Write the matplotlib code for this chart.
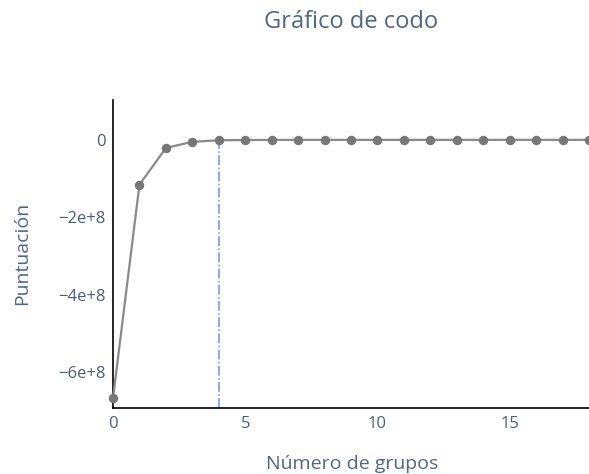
import numpy as np
import matplotlib
matplotlib.use("Agg")
import matplotlib.pyplot as plt
from matplotlib.ticker import FuncFormatter

# Données (score = -inertie)
grupos = list(range(19))
puntuacion = [-6.68e8, -1.16e8, -0.21e8, -0.05e8, -0.01e8,
              -0.004e8, -0.002e8, -0.001e8, -0.0008e8, -0.0006e8,
              -0.0005e8, -0.0004e8, -0.0003e8, -0.0003e8, -0.0002e8,
              -0.0002e8, -0.0002e8, -0.0001e8, -0.0001e8]
codo = 4

plt.rcParams["font.family"] = ["Open Sans", "DejaVu Sans"]
texto = "#4a5d7a"
titulo_col = "#506784"

fig = plt.figure(figsize=(5.89, 4.74), dpi=100)
ax = fig.add_axes([113 / 589, 66 / 474, 1 - 113 / 589, 308 / 474])

ax.plot(grupos, puntuacion, color="#8a8a8a", lw=1.6, marker="o",
        markersize=5.8, markerfacecolor="#777777", markeredgecolor="#777777",
        zorder=3, clip_on=False)

ymin, ymax = -6.93e8, 1.03e8
ax.vlines(codo, ymin, puntuacion[codo], colors="#6f8fe8", linestyles="dashdot",
          lw=1.1, zorder=2)

ax.set_xlim(0, 18)
ax.set_ylim(ymin, ymax)
ax.set_xticks([0, 5, 10, 15])
ax.set_yticks([0, -2e8, -4e8, -6e8])
ax.yaxis.set_major_formatter(FuncFormatter(
    lambda v, p: "0" if v == 0 else "\u2212%de+8" % abs(round(v / 1e8))))

for lado in ["top", "right"]:
    ax.spines[lado].set_visible(False)
for lado in ["left", "bottom"]:
    ax.spines[lado].set_color("black")
    ax.spines[lado].set_linewidth(1.2)
ax.tick_params(length=0, labelsize=12, labelcolor=texto)
ax.tick_params(axis="x", pad=6)
ax.tick_params(axis="y", pad=5)

fig.text(351 / 589, 1 - 22 / 474, "Gráfico de codo", ha="center", va="center",
         fontsize=17, color=titulo_col)
fig.text(352 / 589, 1 - 464 / 474, "Número de grupos", ha="center", va="center",
         fontsize=14, color=titulo_col)
fig.text(22 / 589, 1 - 253 / 474, "Puntuación", ha="center", va="center",
         rotation=90, fontsize=14, color=titulo_col)

fig.savefig("out.png", dpi=100)
